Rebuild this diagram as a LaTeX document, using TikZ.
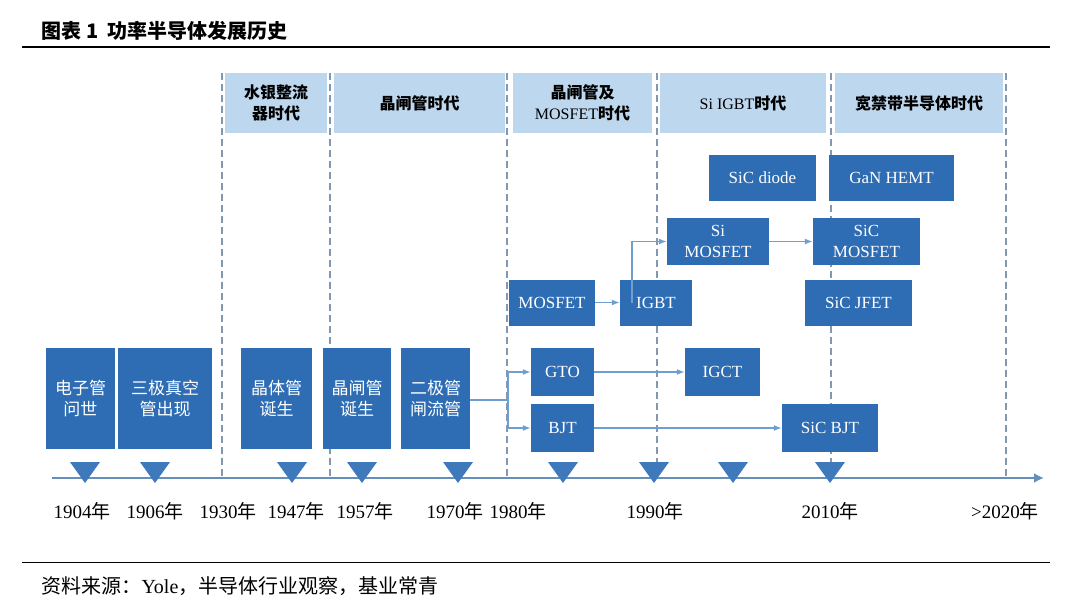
\documentclass[tikz,border=0pt]{standalone}
\usepackage{fontspec}
\setmainfont{Liberation Serif}
\newfontfamily\cjk{Noto Sans CJK SC}
\usetikzlibrary{arrows.meta}
\definecolor{boxblue}{HTML}{2E6DB4}
\definecolor{eraBlue}{HTML}{BDD7EE}
\definecolor{lineblue}{HTML}{6F9FD0}
\definecolor{dashgray}{HTML}{8497B0}
\tikzset{
  devbox/.style={fill=boxblue,text=white,font=\fontsize{17}{21}\selectfont,align=center,inner sep=0},
  erabox/.style={fill=eraBlue,font=\fontsize{16}{21}\selectfont,align=center,inner sep=0},
  flow/.style={lineblue,line width=1.4pt,-{Latex[length=8pt,width=6pt]}},
  erasep/.style={dashgray,line width=1.5pt,dash pattern=on 7pt off 4pt}
}
\begin{document}
\begin{tikzpicture}[x=1pt,y=-1pt]
\useasboundingbox[fill=white] (0,0) rectangle (1080,616);
% title and rules
\node[anchor=west,font=\cjk\bfseries\fontsize{20}{24}\selectfont] (title) at (38,31) {图表 1\ \ 功率半导体发展历史};
\draw[line width=1.2pt] (22,47) -- (1050,47);
\draw[line width=1pt] (22,562) -- (1050,562);
\node[anchor=west,font=\fontsize{20}{24}\selectfont] (src) at (38,586) {{\cjk 资料来源：}Yole{\cjk ，半导体行业观察，基业常青}};
% era headers
\node[erabox,minimum width=102,minimum height=60] (e1) at (276,103) {\cjk\bfseries 水银整流\\\cjk\bfseries 器时代};
\node[erabox,minimum width=171,minimum height=60] (e2) at (419.5,103) {\cjk\bfseries 晶闸管时代};
\node[erabox,minimum width=139,minimum height=60] (e3) at (582.5,103) {{\cjk\bfseries 晶闸管及}\\MOSFET{\cjk\bfseries 时代}};
\node[erabox,minimum width=166,minimum height=60] (e4) at (743,103) {Si IGBT{\cjk\bfseries 时代}};
\node[erabox,minimum width=168,minimum height=60] (e5) at (919,103) {\cjk\bfseries 宽禁带半导体时代};
% era separators
\foreach \x in {222,330,507,657,831,1006}
  \draw[erasep] (\x,73) -- (\x,476);
% axis
\coordinate (a0) at (52,478);
\coordinate (a1) at (1044,478);
\draw[lineblue!90!black,line width=2.5pt,-{Latex[length=10pt,width=10pt]}] (a0) -- (a1);
\foreach \x in {85,155,292,362,458,563,654,733,830}
  \fill[boxblue!75!lineblue] (\x-15,462) -- (\x+15,462) -- (\x,483) -- cycle;
\foreach \x/\t in {82/1904,155/1906,228/1930,296/1947,365/1957,455/1970,518/1980,655/1990,830/2010,1005/>2020}
  \node[font=\fontsize{19}{22}\selectfont] at (\x,511) {\t{\cjk 年}};
% early devices
\node[devbox,minimum width=69,minimum height=101] (tube) at (80.5,398.5) {\cjk 电子管\\\cjk 问世};
\node[devbox,minimum width=94,minimum height=101] (triode) at (165,398.5) {\cjk 三极真空\\\cjk 管出现};
\node[devbox,minimum width=71,minimum height=101] (bjt0) at (276.5,398.5) {\cjk 晶体管\\\cjk 诞生};
\node[devbox,minimum width=68,minimum height=101] (scr) at (357,398.5) {\cjk 晶闸管\\\cjk 诞生};
\node[devbox,minimum width=69,minimum height=101] (thyr) at (435.5,398.5) {\cjk 二极管\\\cjk 闸流管};
% later devices
\node[devbox,minimum width=86,minimum height=46] (mos) at (552,302.5) {MOSFET};
\node[devbox,minimum width=72,minimum height=46] (igbt) at (656,302.5) {IGBT};
\node[devbox,minimum width=63,minimum height=48] (gto) at (562.5,372) {GTO};
\node[devbox,minimum width=63,minimum height=48] (bjt) at (562.5,428) {BJT};
\node[devbox,minimum width=75,minimum height=48] (igct) at (722.5,372) {IGCT};
\node[devbox,minimum width=107,minimum height=46] (sicd) at (762.5,178) {SiC diode};
\node[devbox,minimum width=125,minimum height=46] (gan) at (891.5,178) {GaN HEMT};
\node[devbox,minimum width=102,minimum height=47] (simos) at (718,241.5) {Si\\MOSFET};
\node[devbox,minimum width=107,minimum height=47] (sicmos) at (866.5,241.5) {SiC\\MOSFET};
\node[devbox,minimum width=107,minimum height=46] (jfet) at (858.5,302.5) {SiC JFET};
\node[devbox,minimum width=96,minimum height=48] (sicbjt) at (830,428) {SiC BJT};
% connectors
\coordinate (split) at (508,400);
\draw[lineblue,line width=1.4pt] (thyr.east |- split) -- (split);
\draw[flow] (split) |- (gto.west);
\draw[flow] (split) |- (bjt.west);
\draw[flow] (gto) -- (igct);
\draw[flow] (bjt) -- (sicbjt);
\draw[flow] (mos) -- (igbt);
\draw[flow] ([xshift=-24pt]igbt.center) |- (simos.west);
\draw[flow] (simos) -- (sicmos);
\end{tikzpicture}
\end{document}
